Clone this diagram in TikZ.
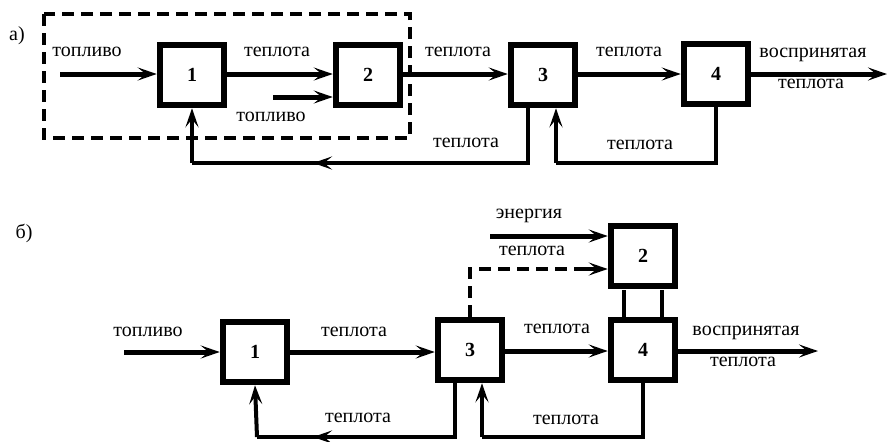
\documentclass[tikz,border=0pt]{standalone}
\usepackage{fontspec}
\setmainfont{Liberation Serif}
\usetikzlibrary{arrows.meta}
\begin{document}
\begin{tikzpicture}[x=1pt,y=-1pt,
  blk/.style={draw,line width=6.5pt,minimum width=64pt,minimum height=60pt,inner sep=0pt,font=\fontsize{20}{20}\selectfont\bfseries},
  lbl/.style={inner sep=0pt,font=\fontsize{20}{20}\selectfont},
  tip/.style={-{Stealth[length=19pt,width=13pt,inset=8pt]}},
  flow/.style={line width=5pt,tip},
  back/.style={line width=4pt},
  backarr/.style={line width=4pt,tip},
  frame/.style={line width=3.5pt,dash pattern=on 12pt off 7pt}]
\useasboundingbox (0,0) rectangle (887,442);

% ---------- а) ----------
\node[lbl] (la) at (17,36) {а)};
\draw[frame] (44,14) rectangle (410,138);

\node[blk] (a1) at (192,75) {1};
\node[blk] (a2) at (368,75) {2};
\node[blk] (a3) at (543,75) {3};
\node[blk] (a4) at (716,74) {4};

\coordinate (ain) at (60,74);
\coordinate (afuel) at (273,97);
\coordinate (aout) at (887,74);
\draw[flow] (ain) -- (a1.west |- ain);
\draw[flow] (a1.east |- 0,74) -- (a2.west |- 0,74);
\draw[flow] (afuel) -- (a2.west |- afuel);
\draw[flow] (a2.east |- 0,74) -- (a3.west |- 0,74);
\draw[flow] (a3.east |- 0,74) -- (a4.west |- 0,74);
\draw[flow] (a4.east |- aout) -- (aout);

\node[lbl] (ta1) at (87,52) {топливо};
\node[lbl] (ta2) at (277,52) {теплота};
\node[lbl] (ta3) at (271,117) {топливо};
\node[lbl] (ta4) at (458,52) {теплота};
\node[lbl] (ta5) at (629,52) {теплота};
\node[lbl] (ta6) at (813,55) {воспринятая};
\node[lbl] (ta7) at (811,84) {теплота};

% return of heat from 3 to 1
\coordinate (ar1) at (528,163);
\coordinate (ar2) at (192,163);
\coordinate (arm) at (313,163);
\draw[back] (a3.south -| ar1) -- (ar1) -- (ar2);
\draw[backarr] (ar1) -- (arm);
\draw[backarr] (ar2) -- (a1.south);
\node[lbl] (ta8) at (466,143) {теплота};

% return of heat from 4 to 3
\coordinate (ar3) at (716,163);
\coordinate (ar4) at (556,163);
\draw[back] (a4.south) -- (ar3) -- (ar4);
\draw[backarr] (ar4) -- (a3.south -| ar4);
\node[lbl] (ta9) at (640,145) {теплота};

% ---------- б) ----------
\node[lbl] (lb) at (24,233) {б)};

\node[blk] (b1) at (255,352) {1};
\node[blk] (b3) at (470,350) {3};
\node[blk] (b4) at (643,350) {4};
\node[blk] (b2) at (643,256) {2};

% rigid link between 2 and 4
\draw[line width=4pt] (624,290) -- (624,317);
\draw[line width=4pt] (662,290) -- (662,317);

\coordinate (bin) at (124,352);
\coordinate (bout) at (818,351);
\coordinate (ben) at (490,236);
\draw[flow] (bin) -- (b1.west |- bin);
\draw[flow] (b1.east |- 0,352) -- (b3.west |- 0,352);
\draw[flow] (b3.east |- 0,351) -- (b4.west |- 0,351);
\draw[flow] (b4.east |- bout) -- (bout);
\draw[flow] (ben) -- (b2.west |- ben);

% heat from 3 to 2 (dashed)
\coordinate (bd) at (470,269);
\draw[line width=4pt,dash pattern=on 12pt off 7pt] (b3.north) -- (bd) -- (580,269);
\draw[line width=4pt,tip] (580,269) -- (b2.west |- bd);

\node[lbl] (tb1) at (148,332) {топливо};
\node[lbl] (tb2) at (354,332) {теплота};
\node[lbl] (tb3) at (557,329) {теплота};
\node[lbl] (tb4) at (746,333) {воспринятая};
\node[lbl] (tb5) at (743,362) {теплота};
\node[lbl] (tb6) at (529,216) {энергия};
\node[lbl] (tb7) at (532,251) {теплота};

% return of heat from 3 to 1
\coordinate (br1) at (455,437);
\coordinate (br2) at (257,437);
\coordinate (brm) at (313,437);
\draw[back] (b3.south -| br1) -- (br1) -- (br2);
\draw[backarr] (br1) -- (brm);
\draw[backarr] (br2) -- (b1.south);
\node[lbl] (tb8) at (358,418) {теплота};

% return of heat from 4 to 3
\coordinate (br3) at (643,437);
\coordinate (br4) at (482,437);
\draw[back] (b4.south) -- (br3) -- (br4);
\draw[backarr] (br4) -- (b3.south -| br4);
\node[lbl] (tb9) at (566,420) {теплота};
\end{tikzpicture}
\end{document}
